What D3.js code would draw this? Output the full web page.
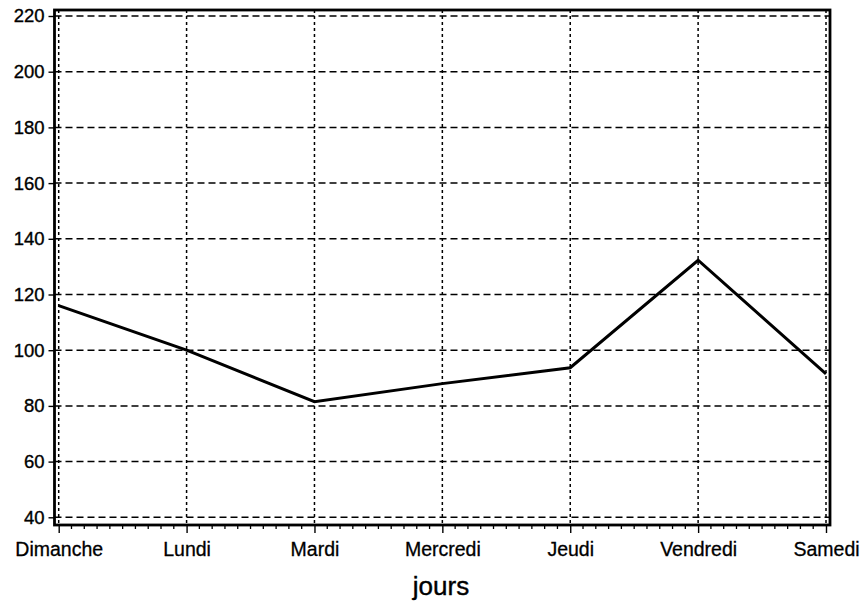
<!DOCTYPE html>
<html>
<head>
<meta charset="utf-8">
<script src="https://cdn.jsdelivr.net/npm/d3@7"></script>
<style>
  html, body { margin: 0; padding: 0; background: #fff; }
  svg { display: block; }
  text { font-family: "Liberation Sans", Arial, Helvetica, sans-serif; fill: #000; }
</style>
</head>
<body>
<svg id="chart" width="860" height="605"></svg>
<script>
const days = ["Dimanche", "Lundi", "Mardi", "Mercredi", "Jeudi", "Vendredi", "Samedi"];
const values = [116, 100, 81.5, 88, 93.7, 132.3, 91.5];
const yTicks = [40, 60, 80, 100, 120, 140, 160, 180, 200, 220];
const xTitle = "jours";

const svg = d3.select("#chart");
const frame = { left: 54.5, right: 830, top: 10, bottom: 525 };

const x = d3.scalePoint().domain(days).range([58.7, 826]);
const y = d3.scaleLinear().domain([40, 220]).range([517.3, 16]);

// horizontal grid
svg.append("g").selectAll("line").data(yTicks).join("line")
  .attr("x1", frame.left).attr("x2", frame.right)
  .attr("y1", d => y(d)).attr("y2", d => y(d))
  .attr("stroke", "#000").attr("stroke-width", 1.5)
  .attr("stroke-dasharray", "7,4");

// vertical grid
svg.append("g").selectAll("line").data(days).join("line")
  .attr("x1", d => x(d)).attr("x2", d => x(d))
  .attr("y1", frame.top).attr("y2", frame.bottom)
  .attr("stroke", "#000").attr("stroke-width", 1.5)
  .attr("stroke-dasharray", "3,3");

// frame
svg.append("rect")
  .attr("x", frame.left).attr("y", frame.top)
  .attr("width", frame.right - frame.left).attr("height", frame.bottom - frame.top)
  .attr("fill", "none").attr("stroke", "#000").attr("stroke-width", 2.8);

// y axis
const yAxis = d3.axisLeft(y).tickValues(yTicks).tickSize(6).tickPadding(4);
const gy = svg.append("g").attr("transform", `translate(${frame.left},0)`).call(yAxis);
gy.select(".domain").remove();
gy.selectAll(".tick line").attr("stroke-width", 1.4);
gy.selectAll(".tick text").style("font-size", "18.5px")
  .style("font-family", "'Liberation Sans', Arial, sans-serif")
  .attr("stroke", "#000").attr("stroke-width", 0.35);

// x minor ticks
const minor = [];
for (let i = 0; i < days.length - 1; i++) {
  const a = x(days[i]), b = x(days[i + 1]);
  for (let k = 1; k < 10; k++) minor.push(a + (b - a) * k / 10);
}
svg.append("g").selectAll("line").data(minor).join("line")
  .attr("x1", d => d).attr("x2", d => d)
  .attr("y1", frame.bottom).attr("y2", frame.bottom + 4)
  .attr("stroke", "#000").attr("stroke-width", 1.3);

// x axis
const xAxis = d3.axisBottom(x).tickSize(8).tickPadding(9);
const gx = svg.append("g").attr("transform", `translate(0,${frame.bottom})`).call(xAxis);
gx.select(".domain").remove();
gx.selectAll(".tick line").attr("stroke-width", 1.4);
gx.selectAll(".tick text").style("font-size", "19.5px")
  .style("font-family", "'Liberation Sans', Arial, sans-serif")
  .attr("stroke", "#000").attr("stroke-width", 0.3);

// line
const line = d3.line().x((d, i) => x(days[i])).y(d => y(d));
svg.append("path").datum(values)
  .attr("d", line).attr("fill", "none")
  .attr("stroke", "#000").attr("stroke-width", 3)
  .attr("stroke-linejoin", "miter");

// title
svg.append("text")
  .attr("x", 441).attr("y", 595)
  .attr("text-anchor", "middle")
  .style("font-size", "26px")
  .attr("stroke", "#000").attr("stroke-width", 0.4)
  .text(xTitle);
</script>
</body>
</html>
